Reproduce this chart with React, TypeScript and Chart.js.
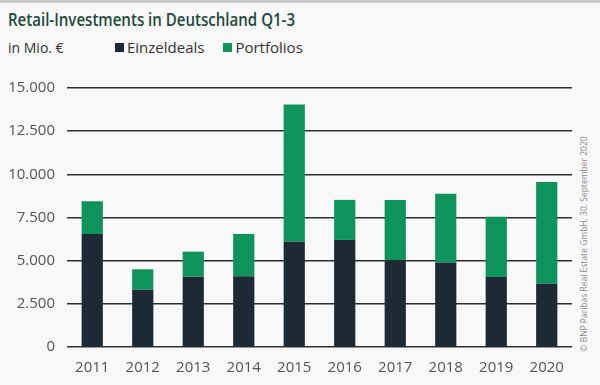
import React, { useEffect, useRef } from "react";
import { Chart, registerables } from "chart.js";

Chart.register(...registerables);

const years = ["2011", "2012", "2013", "2014", "2015", "2016", "2017", "2018", "2019", "2020"];
const einzeldeals = [6540, 3320, 4070, 4100, 6100, 6200, 5020, 4900, 4060, 3670];
const portfolios = [1900, 1180, 1450, 2450, 7940, 2320, 3500, 3980, 3480, 5890];
const yTicks = [0, 2500, 5000, 7500, 10000, 12500, 15000];

const DARK = "#1c2a35";
const GREEN = "#0f935c";
const FONT = "'Open Sans', 'Noto Sans', sans-serif";

function fmt(v: number): string {
  const s = Math.round(v).toString();
  return s.replace(/\B(?=(\d{3})+(?!\d))/g, ".");
}

export default function App() {
  const ref = useRef<HTMLCanvasElement | null>(null);

  useEffect(() => {
    document.body.style.margin = "0";
    const ctx = ref.current;
    if (!ctx) return;
    const chart = new Chart(ctx, {
      type: "bar",
      data: {
        labels: years,
        datasets: [
          { label: "Einzeldeals", data: einzeldeals, backgroundColor: DARK, barPercentage: 0.42, categoryPercentage: 1 },
          { label: "Portfolios", data: portfolios, backgroundColor: GREEN, barPercentage: 0.42, categoryPercentage: 1 },
        ],
      },
      options: {
        animation: false,
        responsive: false,
        maintainAspectRatio: false,
        layout: { padding: { left: 0, right: 0, top: 0, bottom: 0 } },
        plugins: { legend: { display: false }, title: { display: false }, tooltip: { enabled: false } },
        scales: {
          x: {
            stacked: true,
            grid: { display: false },
            border: { display: false },
            ticks: { color: "#555", font: { family: FONT, size: 15 }, padding: 4, maxRotation: 0 },
            afterFit: (s: any) => { s.height = 38; },
          },
          y: {
            stacked: true,
            min: 0,
            max: 15000,
            afterBuildTicks: (s: any) => { s.ticks = yTicks.map((v) => ({ value: v })); },
            grid: { color: "#2e2e2e", lineWidth: 1.5, drawTicks: false },
            border: { display: false },
            ticks: { color: "#555", font: { family: FONT, size: 15 }, padding: 12, callback: (v: any) => fmt(Number(v)) },
            afterFit: (s: any) => { s.width = 67; },
          },
        },
      },
    });
    return () => chart.destroy();
  }, []);

  return (
    <div style={{ position: "absolute", left: 0, top: 0, width: 600, height: 385, background: "#f8f8f8", overflow: "hidden", fontFamily: FONT }}>
      <div style={{ position: "absolute", left: 0, top: 0, width: 600, height: 3, background: "#c8c8c8" }} />
      <div
        style={{
          position: "absolute",
          left: 8,
          top: 7,
          fontSize: 17.5,
          fontWeight: 600,
          color: "#1f4a3c",
          whiteSpace: "nowrap",
          transform: "scaleX(0.86)",
          transformOrigin: "left center",
        }}
      >
        Retail-Investments in Deutschland Q1-3
      </div>
      <div style={{ position: "absolute", left: 8, top: 38, fontSize: 14, color: "#333", whiteSpace: "nowrap" }}>in Mio. €</div>
      <div style={{ position: "absolute", left: 115, top: 37, fontSize: 15, color: "#333", whiteSpace: "nowrap", display: "flex", alignItems: "center" }}>
        <span style={{ display: "inline-block", width: 9, height: 9, background: DARK, marginRight: 3 }} />
        <span>Einzeldeals</span>
        <span style={{ display: "inline-block", width: 9, height: 9, background: GREEN, marginLeft: 19, marginRight: 3 }} />
        <span>Portfolios</span>
      </div>
      <canvas ref={ref} width={572} height={318} style={{ position: "absolute", left: 0, top: 67, width: 572, height: 318 }} />
      <div
        style={{
          position: "absolute",
          left: 583,
          top: 244,
          transform: "translate(-50%, -50%) rotate(-90deg)",
          fontSize: 8.5,
          color: "#8a8a8a",
          whiteSpace: "nowrap",
        }}
      >
        © BNP Paribas Real Estate GmbH, 30. September 2020
      </div>
    </div>
  );
}
